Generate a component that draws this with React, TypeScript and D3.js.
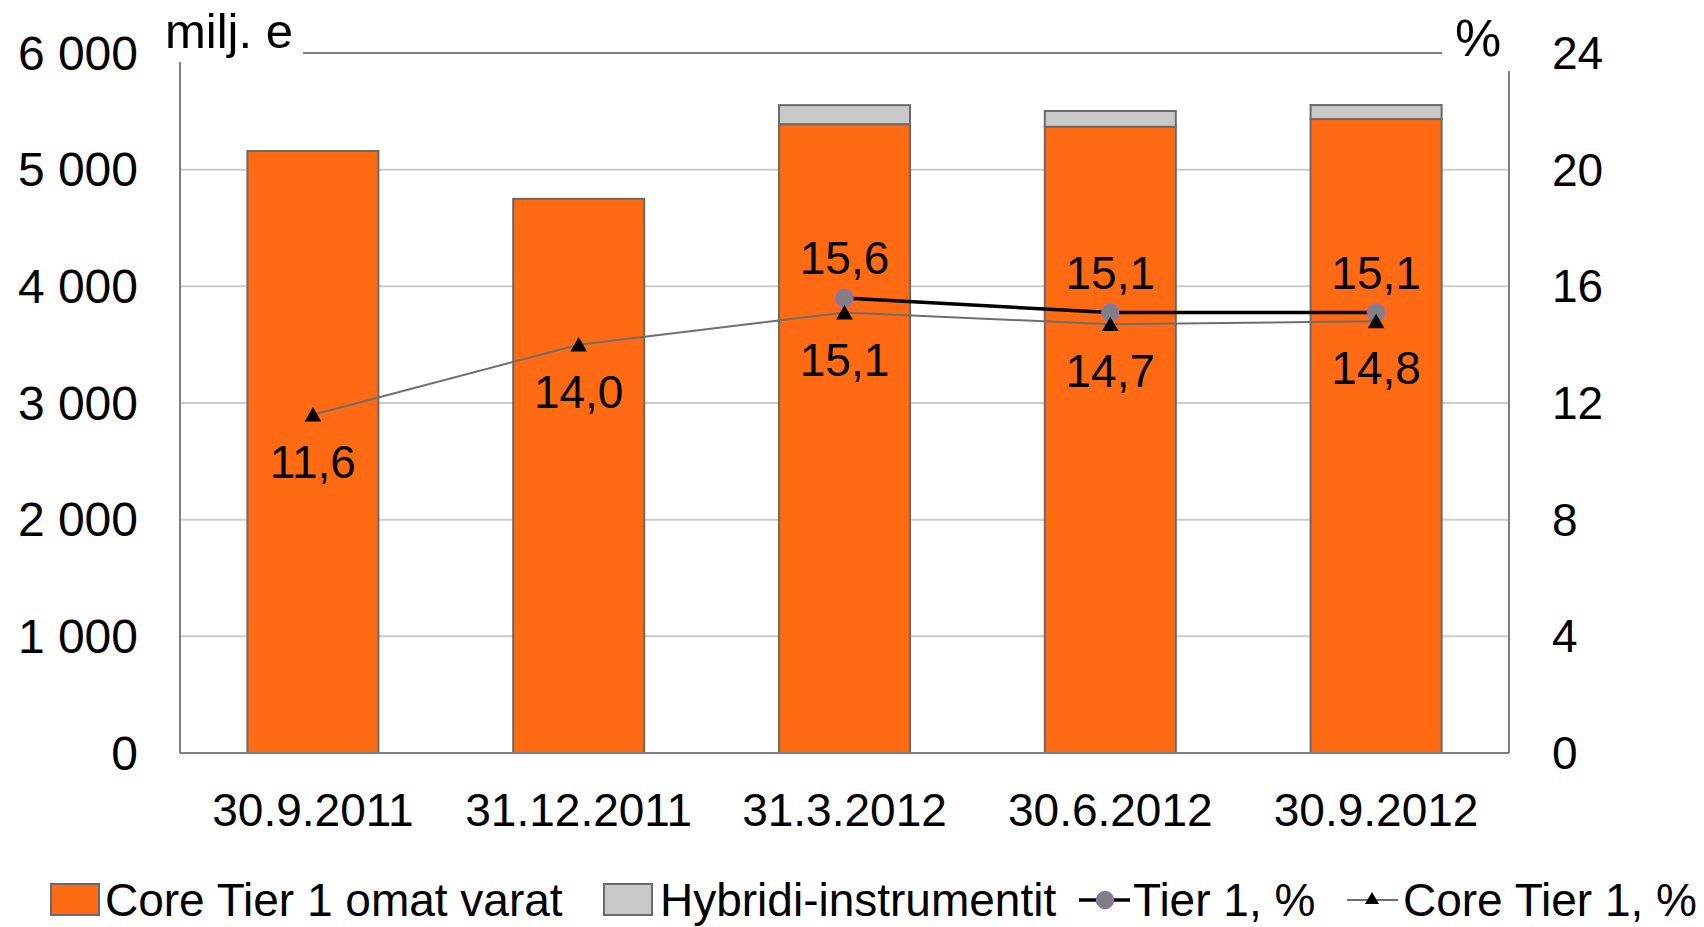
import React from "react";
import * as d3 from "d3";

const categories = ["30.9.2011", "31.12.2011", "31.3.2012", "30.6.2012", "30.9.2012"];
const coreTier1Capital = [5160, 4750, 5390, 5368, 5434];
const hybridInstruments = [0, 0, 163, 135, 120];
const tier1Pct: (number | null)[] = [null, null, 15.6, 15.1, 15.1];
const coreTier1Pct = [11.6, 14.0, 15.1, 14.7, 14.8];
const leftTicks = [0, 1000, 2000, 3000, 4000, 5000, 6000];
const rightTicks = [0, 4, 8, 12, 16, 20, 24];
const legendLabels = ["Core Tier 1 omat varat", "Hybridi-instrumentit", "Tier 1, %", "Core Tier 1, %"];

const W = 1704;
const H = 927;
const FONT = "'Liberation Sans', Arial, Helvetica, sans-serif";
const FS = 46;
const ORANGE = "#FF6A12";
const HYB = "#C8C8C8";
const BAR_STROKE = "#6A6A6A";
const GRID = "#CCCCCC";
const AXIS = "#7F7F7F";

const fmtThousands = (v: number) => {
  const s = String(v);
  return s.length > 3 ? s.slice(0, s.length - 3) + " " + s.slice(-3) : s;
};
const fmtPct = (v: number) => v.toFixed(1).replace(".", ",");

export default function App() {
  const left = 180, right = 1509, top = 53, bottom = 753;
  const x = d3.scaleBand<string>().domain(categories).range([left, right]).paddingInner(0.507).paddingOuter(0.2535);
  const yL = d3.scaleLinear().domain([0, 6000]).range([bottom, top]);
  const yR = d3.scaleLinear().domain([0, 24]).range([bottom, top]);
  const cx = (c: string) => (x(c) as number) + x.bandwidth() / 2;

  const tierPts = categories
    .map((c, i) => ({ c, v: tier1Pct[i] }))
    .filter((d) => d.v !== null) as { c: string; v: number }[];
  const corePts = categories.map((c, i) => ({ c, v: coreTier1Pct[i] }));
  const line = d3
    .line<{ c: string; v: number }>()
    .x((d) => cx(d.c))
    .y((d) => yR(d.v));
  const tri = d3.symbol().type(d3.symbolTriangle).size(120)();
  const triSmall = d3.symbol().type(d3.symbolTriangle).size(85)();
  const LY = 900;

  return (
    <svg width={W} height={H} style={{ display: "block", position: "absolute", left: 0, top: 0 }} fontFamily={FONT}>
      <rect width={W} height={H} fill="#fff" />
      {/* gridlines */}
      {leftTicks.filter((t) => t > 0 && t < 6000).map((t) => (
        <line key={t} x1={left} x2={right} y1={yL(t)} y2={yL(t)} stroke={GRID} strokeWidth={2} />
      ))}
      {/* top border line */}
      <line x1={left + 123} x2={right - 67} y1={yL(6000)} y2={yL(6000)} stroke={AXIS} strokeWidth={2} />
      {/* axes */}
      <line x1={left} x2={left} y1={top + 9} y2={bottom} stroke={AXIS} strokeWidth={2} />
      <line x1={right} x2={right} y1={top + 18} y2={bottom} stroke={AXIS} strokeWidth={2} />
      {/* bars */}
      {categories.map((c, i) => {
        const x0 = x(c) as number;
        const y0 = yL(coreTier1Capital[i]);
        const y1 = yL(coreTier1Capital[i] + hybridInstruments[i]);
        return (
          <g key={c}>
            <rect x={x0} y={y0} width={x.bandwidth()} height={bottom - y0} fill={ORANGE} stroke={BAR_STROKE} strokeWidth={2} />
            {hybridInstruments[i] > 0 && (
              <rect x={x0} y={y1} width={x.bandwidth()} height={y0 - y1} fill={HYB} stroke={BAR_STROKE} strokeWidth={2} />
            )}
          </g>
        );
      })}
      <line x1={left} x2={right} y1={bottom} y2={bottom} stroke={AXIS} strokeWidth={2} />
      {/* lines */}
      <path d={line(corePts) || ""} fill="none" stroke="#6E6E6E" strokeWidth={2} />
      <path d={line(tierPts) || ""} fill="none" stroke="#000" strokeWidth={3.5} />
      {tierPts.map((d) => (
        <circle key={"t" + d.c} cx={cx(d.c)} cy={yR(d.v)} r={8.5} fill="#808080" stroke="#8C6FC4" strokeWidth={1.5} />
      ))}
      {corePts.map((d) => (
        <path key={"c" + d.c} d={tri || ""} transform={`translate(${cx(d.c)},${yR(d.v) + 2})`} fill="#000" />
      ))}
      {/* data labels */}
      {tierPts.map((d) => (
        <text key={"tl" + d.c} x={cx(d.c)} y={yR(d.v) - 40} textAnchor="middle" dominantBaseline="central" fontSize={FS} fill="#000">
          {fmtPct(d.v)}
        </text>
      ))}
      {corePts.map((d) => (
        <text key={"cl" + d.c} x={cx(d.c)} y={yR(d.v) + 47} textAnchor="middle" dominantBaseline="central" fontSize={FS} fill="#000">
          {fmtPct(d.v)}
        </text>
      ))}
      {/* left ticks */}
      {leftTicks.map((t) => (
        <text key={"l" + t} x={138} y={yL(t)} textAnchor="end" dominantBaseline="central" fontSize={48} fill="#000">
          {fmtThousands(t)}
        </text>
      ))}
      {/* right ticks */}
      {rightTicks.map((t) => (
        <text key={"r" + t} x={1552} y={yR(t)} textAnchor="start" dominantBaseline="central" fontSize={FS} fill="#000">
          {t}
        </text>
      ))}
      {/* axis titles */}
      <text x={165} y={48} fontSize={49} fill="#000">milj. e</text>
      <text x={1478} y={56} textAnchor="middle" fontSize={52} fill="#000">%</text>
      {/* categories */}
      {categories.map((c) => (
        <text key={"x" + c} x={cx(c)} y={810} textAnchor="middle" dominantBaseline="central" fontSize={FS} fill="#000">
          {c}
        </text>
      ))}
      {/* legend */}
      <g>
        <rect x={51} y={LY - 16} width={48} height={31} fill={ORANGE} stroke={BAR_STROKE} strokeWidth={2} />
        <text x={105} y={LY} dominantBaseline="central" fontSize={FS}>{legendLabels[0]}</text>
        <rect x={604} y={LY - 16} width={48} height={31} fill={HYB} stroke={BAR_STROKE} strokeWidth={2} />
        <text x={660} y={LY} dominantBaseline="central" fontSize={FS}>{legendLabels[1]}</text>
        <line x1={1079} x2={1130} y1={LY} y2={LY} stroke="#000" strokeWidth={3.5} />
        <circle cx={1105} cy={LY} r={8.5} fill="#808080" stroke="#8C6FC4" strokeWidth={1.5} />
        <text x={1133} y={LY} dominantBaseline="central" fontSize={FS}>{legendLabels[2]}</text>
        <line x1={1347} x2={1398} y1={LY} y2={LY} stroke="#6E6E6E" strokeWidth={2} />
        <path d={triSmall || ""} transform={`translate(1372,${LY})`} fill="#000" />
        <text x={1403} y={LY} dominantBaseline="central" fontSize={FS}>{legendLabels[3]}</text>
      </g>
    </svg>
  );
}
